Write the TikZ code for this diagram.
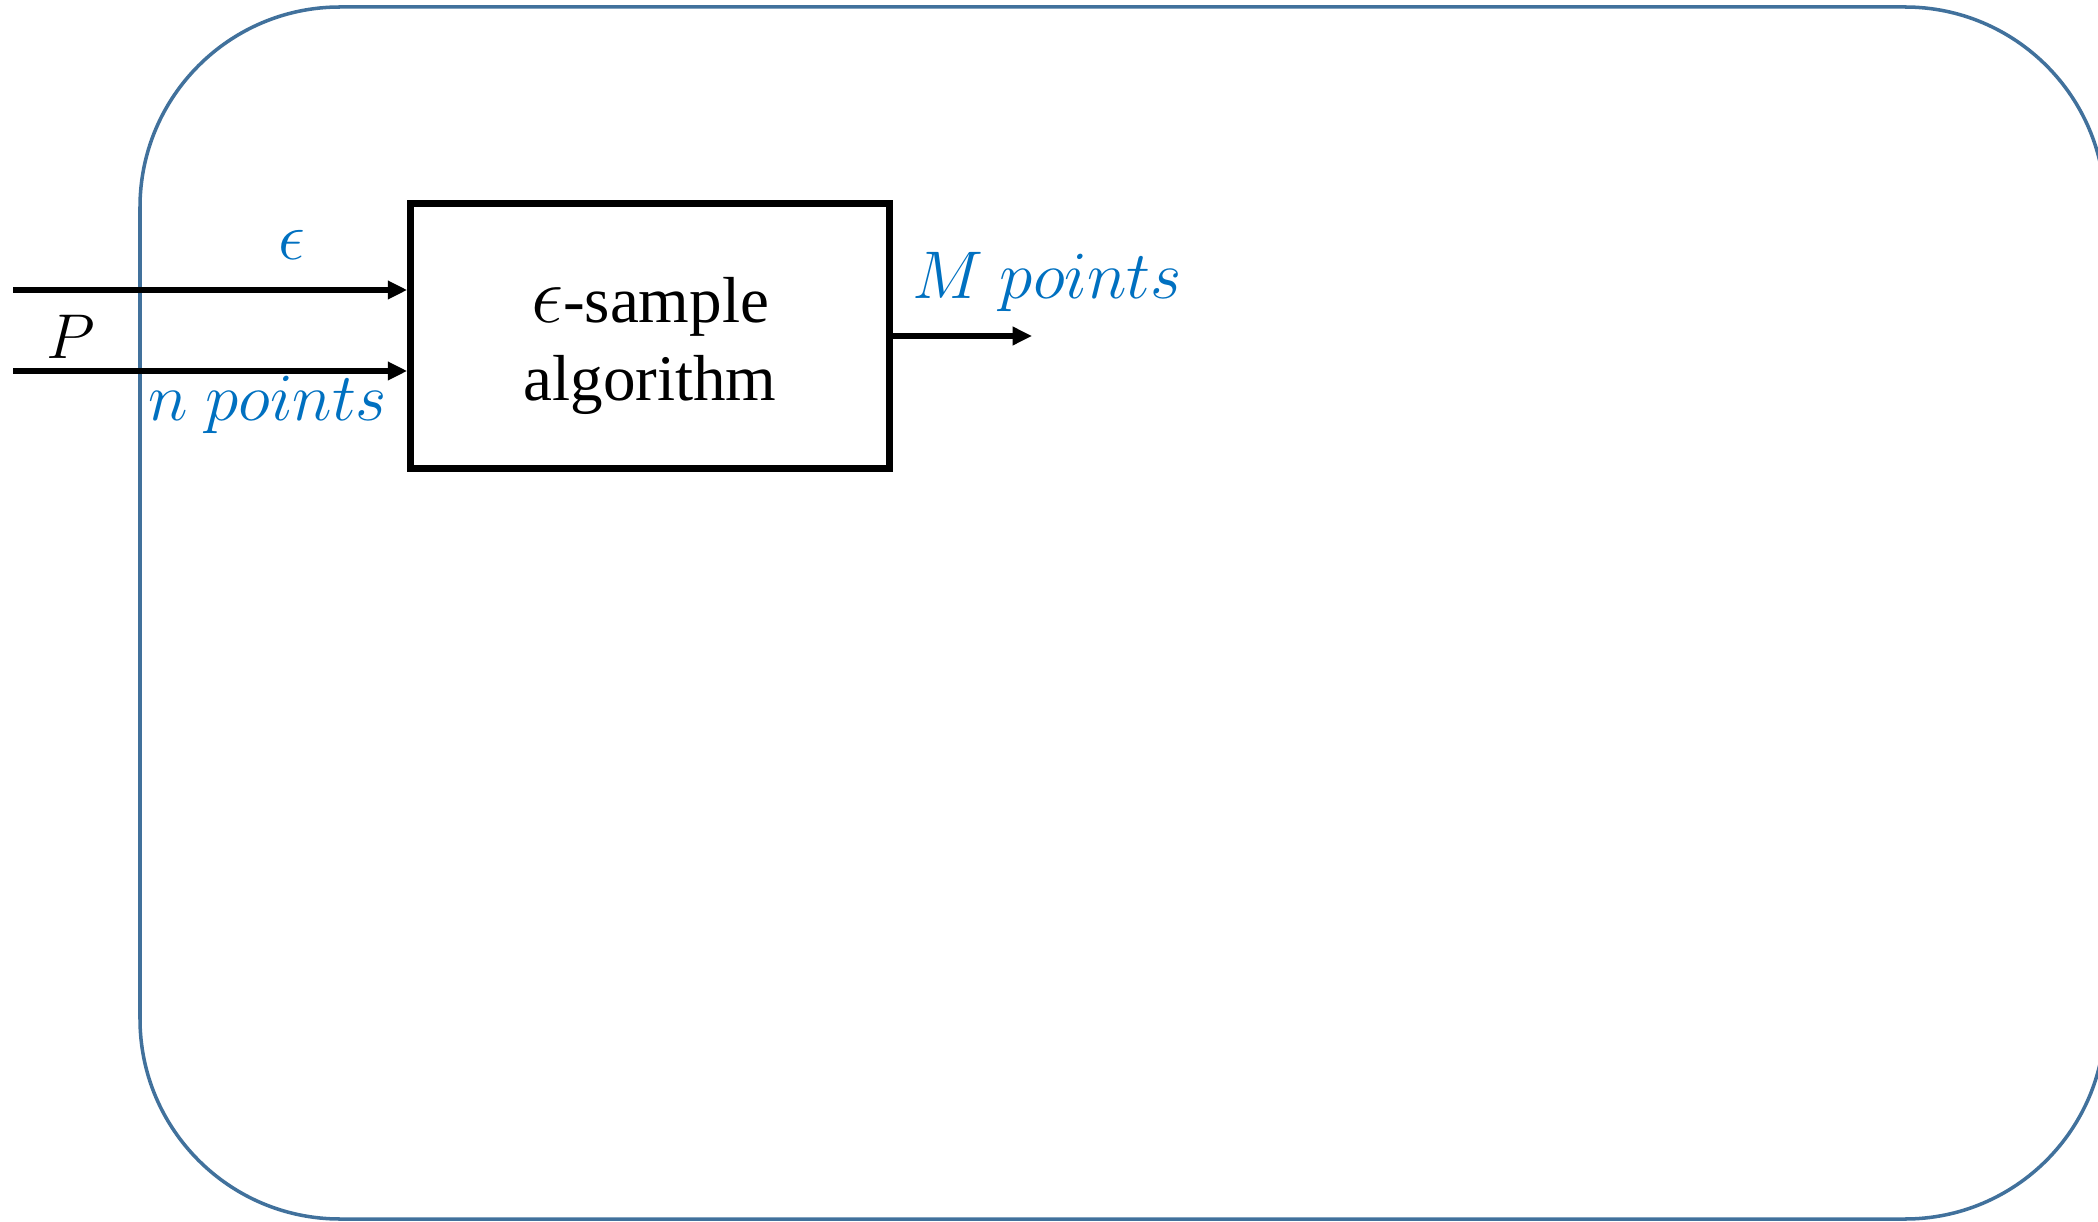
\documentclass[tikz,border=0pt]{standalone}
\usepackage{fix-cm}
\usepackage{fontspec}
\setmainfont{Liberation Serif}
\usetikzlibrary{arrows.meta,positioning}
\definecolor{frameblue}{RGB}{65,113,156}
\definecolor{labelblue}{RGB}{0,112,192}

\begin{document}
\begin{tikzpicture}[x=0.01cm,y=-0.01cm,
	flow/.style={line width=1.7pt,-{Triangle[length=5.5pt,width=5pt]}},
	lbl/.style={text=labelblue,font=\fontsize{19.2}{22}\selectfont}]
	\useasboundingbox (0,0) rectangle (2098,1222);
	\draw[frameblue,line width=1pt,rounded corners=2cm] (140,7) rectangle (2105,1219);
	\node[draw,line width=1.8pt,minimum width=4.79cm,minimum height=2.65cm] (alg) at (650,336) {};
	\node[align=center,font=\fontsize{18.5}{22}\selectfont] (alg text) at (650,346) {{\fontsize{23}{22}\selectfont$\epsilon$}-sample\\algorithm};
	\coordinate (eps start) at (13,290);
	\coordinate (P start) at (13,371);
	\coordinate (out end) at (1032,336);
	\draw[flow] (eps start) -- (eps start -| alg.west);
	\draw[flow] (P start) -- (P start -| alg.west);
	\draw[flow] (alg.east) -- (out end);
	\node[lbl] (eps) at (292,245) {$\epsilon$};
	\node[font=\fontsize{18}{22}\selectfont] (P) at (71,337) {$P$};
	\node[lbl] (n pts) at (268,405) {$n\ points$};
	\node[lbl] (M pts) at (1047,282) {$M\ points$};
\end{tikzpicture}
\end{document}
